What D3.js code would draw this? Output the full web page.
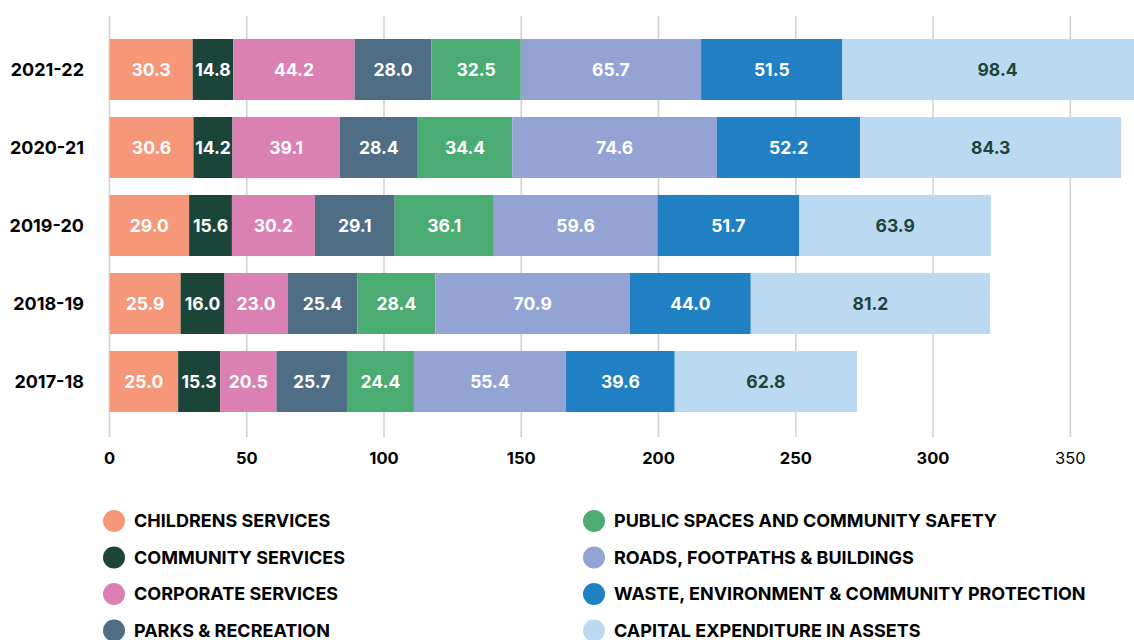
<!DOCTYPE html>
<html>
<head>
<meta charset="utf-8">
<script src="https://cdn.jsdelivr.net/npm/d3@7"></script>
<style>
  body { margin: 0; background: #fff; }
  svg { display: block; font-family: Inter, "Noto Sans", sans-serif; }
</style>
</head>
<body>
<svg id="chart" width="1134" height="640"></svg>
<script>
// years, top to bottom
var years = ["2021-22", "2020-21", "2019-20", "2018-19", "2017-18"];

var series = [
  "CHILDRENS SERVICES",
  "COMMUNITY SERVICES",
  "CORPORATE SERVICES",
  "PARKS & RECREATION",
  "PUBLIC SPACES AND COMMUNITY SAFETY",
  "ROADS, FOOTPATHS & BUILDINGS",
  "WASTE, ENVIRONMENT & COMMUNITY PROTECTION",
  "CAPITAL EXPENDITURE IN ASSETS"
];

var colors = ["#f7977a", "#1c4539", "#db80b3", "#4f6d84", "#4bac73", "#93a3d4", "#2180c4", "#bbdaf2"];

var childrens = [30.3, 30.6, 29.0, 25.9, 25.0];
var community = [14.8, 14.2, 15.6, 16.0, 15.3];
var corporate = [44.2, 39.1, 30.2, 23.0, 20.5];
var parks     = [28.0, 28.4, 29.1, 25.4, 25.7];
var publicSp  = [32.5, 34.4, 36.1, 28.4, 24.4];
var roads     = [65.7, 74.6, 59.6, 70.9, 55.4];
var waste     = [51.5, 52.2, 51.7, 44.0, 39.6];
// capital bars are drawn longer than their printed labels in the source
var capital       = [113.0, 95.0, 69.8, 87.2, 66.4];
var capitalLabels = [98.4, 84.3, 63.9, 81.2, 62.8];

var ticks = [0, 50, 100, 150, 200, 250, 300, 350];

var svg = d3.select("#chart");

var x = d3.scaleLinear().domain([0, 350]).range([109.5, 1070.3]);
var y = d3.scaleBand().domain(years).range([30.5, 420.5])
  .paddingInner(0.218).paddingOuter(0.109);

// gridlines
svg.append("g").selectAll("line")
  .data(ticks)
  .enter().append("line")
    .attr("x1", function(d) { return x(d); })
    .attr("x2", function(d) { return x(d); })
    .attr("y1", 16)
    .attr("y2", 437)
    .attr("stroke", "#d2d2d2")
    .attr("stroke-width", 1.6);

// tick labels
svg.append("g").selectAll("text")
  .data(ticks)
  .enter().append("text")
    .attr("x", function(d) { return x(d); })
    .attr("y", 464)
    .attr("text-anchor", "middle")
    .attr("font-size", 16.5)
    .attr("font-weight", function(d) { return d === 350 ? 400 : 700; })
    .attr("fill", "#000")
    .text(function(d) { return d; });

// build rows
var values = [childrens, community, corporate, parks, publicSp, roads, waste, capital];
var labels = [childrens, community, corporate, parks, publicSp, roads, waste, capitalLabels];

var rows = years.map(function(yr, i) {
  var o = { year: yr };
  series.forEach(function(s, j) { o[s] = values[j][i]; });
  return o;
});

var stack = d3.stack().keys(series)(rows);

var layer = svg.append("g").selectAll("g")
  .data(stack)
  .enter().append("g")
    .attr("fill", function(d, j) { return colors[j]; });

layer.selectAll("rect")
  .data(function(d) { return d; })
  .enter().append("rect")
    .attr("x", function(d) { return x(d[0]); })
    .attr("width", function(d) { return x(d[1]) - x(d[0]); })
    .attr("y", function(d) { return y(d.data.year); })
    .attr("height", y.bandwidth());

// value labels
stack.forEach(function(s, j) {
  svg.append("g").selectAll("text")
    .data(s)
    .enter().append("text")
      .attr("x", function(d) { return (x(d[0]) + x(d[1])) / 2; })
      .attr("y", function(d) { return y(d.data.year) + y.bandwidth() / 2; })
      .attr("dy", "0.36em")
      .attr("text-anchor", "middle")
      .attr("font-size", 17.5)
      .attr("font-weight", 700)
      .attr("fill", j === 7 ? "#1c4539" : "#fff")
      .text(function(d, i) { return labels[j][i].toFixed(1); });
});

// year labels
svg.append("g").selectAll("text")
  .data(years)
  .enter().append("text")
    .attr("x", 84)
    .attr("y", function(d) { return y(d) + y.bandwidth() / 2; })
    .attr("dy", "0.36em")
    .attr("text-anchor", "end")
    .attr("font-size", 18)
    .attr("font-weight", 700)
    .attr("fill", "#000")
    .text(function(d) { return d; });

// legend, two columns of four
var legend = svg.append("g").selectAll("g")
  .data(series)
  .enter().append("g")
    .attr("transform", function(d, i) {
      var col = Math.floor(i / 4), row = i % 4;
      return "translate(" + (col ? 594 : 114) + "," + (521 + row * 36.5) + ")";
    });

legend.append("circle")
  .attr("r", 11)
  .attr("fill", function(d, i) { return colors[i]; });

legend.append("text")
  .attr("x", 20)
  .attr("dy", "0.36em")
  .attr("font-size", 18)
  .attr("font-weight", 700)
  .attr("fill", "#000")
  .text(function(d) { return d; });
</script>
</body>
</html>
